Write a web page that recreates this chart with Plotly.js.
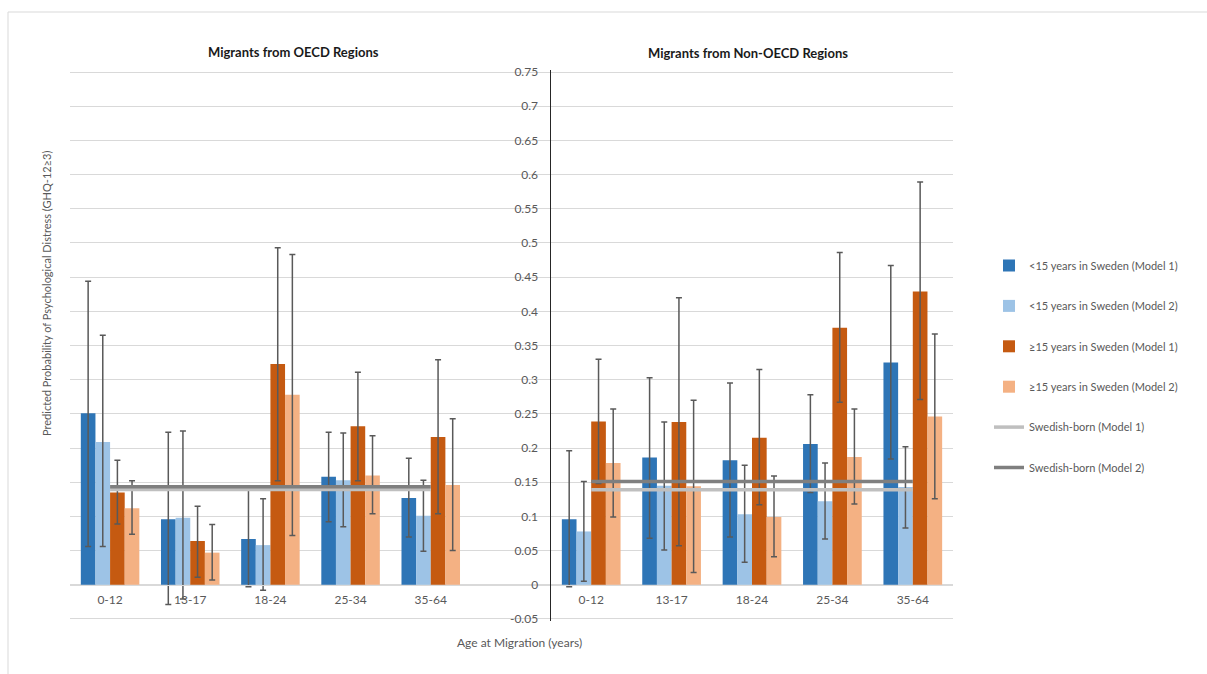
<!DOCTYPE html>
<html>
<head>
<meta charset="utf-8">
<script src="https://cdn.plot.ly/plotly-3.0.1.min.js"></script>
<style>html,body{margin:0;padding:0;background:#fff;}#chart{width:1207px;height:674px;}</style>
</head>
<body>
<div id="chart"></div>
<script>
// ---------- DATA ----------
const categories = ['0-12', '13-17', '18-24', '25-34', '35-64'];
const yTickVals = [-0.05, 0, 0.05, 0.1, 0.15, 0.2, 0.25, 0.3, 0.35, 0.4, 0.45, 0.5, 0.55, 0.6, 0.65, 0.7, 0.75];
const yTickText = ['-0.05', '0', '0.05', '0.1', '0.15', '0.2', '0.25', '0.3', '0.35', '0.4', '0.45', '0.5', '0.55', '0.6', '0.65', '0.7', '0.75'];

const seriesNames = [
  '<15 years in Sweden (Model 1)',
  '<15 years in Sweden (Model 2)',
  '\u226515 years in Sweden (Model 1)',
  '\u226515 years in Sweden (Model 2)',
  'Swedish-born (Model 1)',
  'Swedish-born (Model 2)'
];

// Migrants from OECD regions
const oecdLt15M1   = [0.251, 0.096, 0.067, 0.158, 0.127];
const oecdLt15M1Lo = [0.056, -0.029, -0.003, 0.092, 0.070];
const oecdLt15M1Hi = [0.444, 0.223, 0.141, 0.223, 0.185];
const oecdLt15M2   = [0.209, 0.098, 0.058, 0.153, 0.101];
const oecdLt15M2Lo = [0.056, -0.021, -0.008, 0.085, 0.049];
const oecdLt15M2Hi = [0.365, 0.225, 0.126, 0.222, 0.153];
const oecdGe15M1   = [0.135, 0.064, 0.323, 0.232, 0.216];
const oecdGe15M1Lo = [0.089, 0.011, 0.152, 0.152, 0.104];
const oecdGe15M1Hi = [0.182, 0.115, 0.493, 0.311, 0.329];
const oecdGe15M2   = [0.112, 0.047, 0.278, 0.160, 0.146];
const oecdGe15M2Lo = [0.074, 0.007, 0.072, 0.104, 0.050];
const oecdGe15M2Hi = [0.152, 0.088, 0.483, 0.218, 0.243];
const oecdSweM1    = [0.1395, 0.1395, 0.1395, 0.1395, 0.1395];
const oecdSweM2    = [0.1435, 0.1435, 0.1435, 0.1435, 0.1435];

// Migrants from non-OECD regions
const nonLt15M1   = [0.096, 0.186, 0.182, 0.206, 0.325];
const nonLt15M1Lo = [-0.003, 0.068, 0.070, 0.135, 0.184];
const nonLt15M1Hi = [0.196, 0.303, 0.295, 0.278, 0.467];
const nonLt15M2   = [0.078, 0.145, 0.103, 0.122, 0.143];
const nonLt15M2Lo = [0.005, 0.051, 0.033, 0.067, 0.083];
const nonLt15M2Hi = [0.151, 0.238, 0.175, 0.178, 0.202];
const nonGe15M1   = [0.239, 0.238, 0.215, 0.376, 0.429];
const nonGe15M1Lo = [0.148, 0.057, 0.117, 0.267, 0.271];
const nonGe15M1Hi = [0.330, 0.420, 0.315, 0.486, 0.589];
const nonGe15M2   = [0.178, 0.144, 0.099, 0.187, 0.246];
const nonGe15M2Lo = [0.099, 0.018, 0.041, 0.118, 0.126];
const nonGe15M2Hi = [0.257, 0.270, 0.159, 0.257, 0.367];
const nonSweM1    = [0.139, 0.139, 0.139, 0.139, 0.139];
const nonSweM2    = [0.151, 0.151, 0.151, 0.151, 0.151];

// ---------- STYLE ----------
const barColors = ['#2E75B6', '#9DC3E6', '#C55A11', '#F4B183'];
const lineColors = ['#BFBFBF', '#7F7F7F'];
const FONT = 'Lato, "Open Sans", sans-serif';
const TXT = '#595959';

function barTrace(i, vals, lo, hi, xa, ya, show) {
  return {
    type: 'bar', name: seriesNames[i], legendgroup: 'g' + i, showlegend: show,
    x: categories, y: vals, xaxis: xa, yaxis: ya,
    marker: {color: barColors[i]},
    error_y: {
      type: 'data', symmetric: false,
      array: hi.map((h, k) => h - vals[k]),
      arrayminus: lo.map((l, k) => vals[k] - l),
      color: '#595959', thickness: 1.5, width: 3
    },
    hoverinfo: 'skip'
  };
}
function lineTrace(i, vals, xa, ya, show) {
  return {
    type: 'scatter', mode: 'lines', name: seriesNames[i], legendgroup: 'g' + i, showlegend: show,
    x: categories, y: vals, xaxis: xa, yaxis: ya,
    line: {color: lineColors[i - 4], width: 3.5},
    hoverinfo: 'skip'
  };
}

const traces = [
  barTrace(0, oecdLt15M1, oecdLt15M1Lo, oecdLt15M1Hi, 'x', 'y', true),
  barTrace(1, oecdLt15M2, oecdLt15M2Lo, oecdLt15M2Hi, 'x', 'y', true),
  barTrace(2, oecdGe15M1, oecdGe15M1Lo, oecdGe15M1Hi, 'x', 'y', true),
  barTrace(3, oecdGe15M2, oecdGe15M2Lo, oecdGe15M2Hi, 'x', 'y', true),
  lineTrace(4, oecdSweM1, 'x', 'y', true),
  lineTrace(5, oecdSweM2, 'x', 'y', true),
  barTrace(0, nonLt15M1, nonLt15M1Lo, nonLt15M1Hi, 'x2', 'y2', false),
  barTrace(1, nonLt15M2, nonLt15M2Lo, nonLt15M2Hi, 'x2', 'y2', false),
  barTrace(2, nonGe15M1, nonGe15M1Lo, nonGe15M1Hi, 'x2', 'y2', false),
  barTrace(3, nonGe15M2, nonGe15M2Lo, nonGe15M2Hi, 'x2', 'y2', false),
  lineTrace(4, nonSweM1, 'x2', 'y2', false),
  lineTrace(5, nonSweM2, 'x2', 'y2', false)
];

// value -> pixel mapping targets: 0.75 at y=72, -0.05 at y=619
const yRange = [-0.053, 0.753];
const PXPERUNIT = 547 / 0.8;
const W = 1207, H = 674, ML = 70, MR = 254;
const MT = Math.round(72 - (yRange[1] - 0.75) * PXPERUNIT);
const MB = Math.round(H - (619 + (-0.05 - yRange[0]) * PXPERUNIT));
const PW = W - ML - MR, PH = H - MT - MB;
const px = v => (v - ML) / PW;           // pixel x -> paper
const py = v => (H - MB - v) / PH;       // pixel y -> paper
const split = px(551);
const zeroPos = (0 - yRange[0]) / (yRange[1] - yRange[0]);

const xCommon = {
  type: 'category', anchor: 'free', position: zeroPos,
  showline: true, linecolor: '#D9D9D9', linewidth: 1,
  showgrid: false, zeroline: false, ticks: '', ticklabelstandoff: 4,
  tickfont: {family: FONT, size: 12, color: TXT}
};
const yCommon = {
  domain: [0, 1], range: yRange,
  tickvals: yTickVals, ticktext: yTickText,
  showgrid: true, gridcolor: '#D9D9D9', gridwidth: 1, zeroline: false,
  ticks: '', tickfont: {family: FONT, size: 12, color: TXT}
};

const layout = {
  width: W, height: H,
  margin: {l: ML, r: MR, t: MT, b: MB, pad: 0},
  paper_bgcolor: '#fff', plot_bgcolor: '#fff',
  font: {family: FONT, color: TXT},
  barmode: 'group', bargap: 0.27, bargroupgap: 0,
  showlegend: true,
  legend: {
    x: px(989), xanchor: 'left', y: py(251), yanchor: 'top',
    font: {family: FONT, size: 11, color: TXT},
    tracegroupgap: 21.4, traceorder: 'grouped', bgcolor: 'rgba(0,0,0,0)'
  },
  xaxis: Object.assign({}, xCommon, {domain: [0, split], range: [-0.5, 5.5]}),
  xaxis2: Object.assign({}, xCommon, {domain: [split, 1], range: [-0.5, 4.5]}),
  yaxis: Object.assign({}, yCommon, {anchor: 'x', showticklabels: false, showline: false}),
  yaxis2: Object.assign({}, yCommon, {
    anchor: 'x2', side: 'left', matches: 'y',
    showline: true, linecolor: '#262626', linewidth: 1.5, ticklabelstandoff: 9
  }),
  shapes: [{
    type: 'rect', xref: 'paper', yref: 'paper',
    x0: px(8), x1: px(1230), y0: py(700), y1: py(12),
    line: {color: '#D9D9D9', width: 1}, layer: 'below'
  }],
  annotations: [
    {text: '<b>Migrants from OECD Regions</b>', xref: 'paper', yref: 'paper',
     x: px(293), y: py(52), showarrow: false, xanchor: 'center', yanchor: 'middle',
     font: {family: FONT, size: 13, color: '#1A1A1A'}},
    {text: '<b>Migrants from Non-OECD Regions</b>', xref: 'paper', yref: 'paper',
     x: px(748), y: py(53), showarrow: false, xanchor: 'center', yanchor: 'middle',
     font: {family: FONT, size: 13, color: '#1A1A1A'}},
    {text: 'Age at Migration (years)', xref: 'paper', yref: 'paper',
     x: px(519), y: py(642), showarrow: false, xanchor: 'center', yanchor: 'middle',
     font: {family: FONT, size: 12, color: TXT}},
    {text: 'Predicted Probability of Psychological Distress (GHQ-12\u22653)', xref: 'paper', yref: 'paper',
     x: px(46), y: py(294), showarrow: false, xanchor: 'center', yanchor: 'middle', textangle: -90,
     font: {family: FONT, size: 11, color: TXT}}
  ]
};

Plotly.newPlot('chart', traces, layout, {displayModeBar: false, staticPlot: true});
</script>
</body>
</html>
